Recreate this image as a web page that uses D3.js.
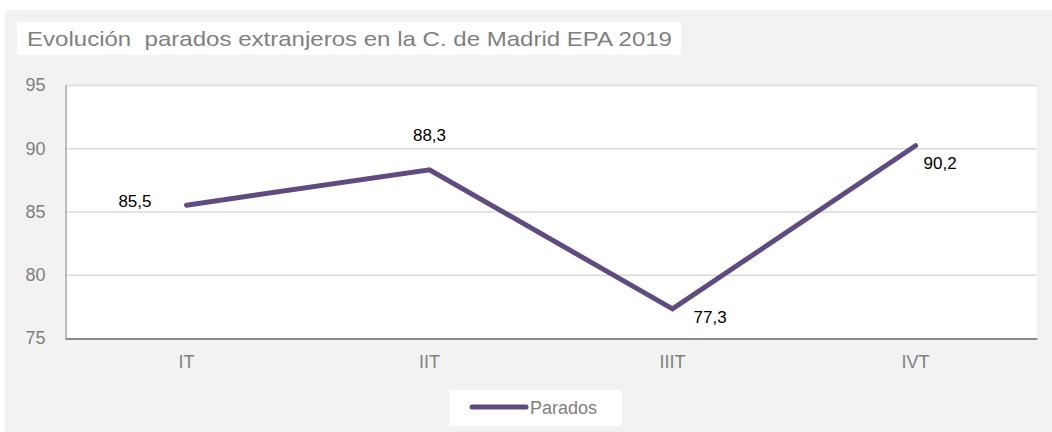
<!DOCTYPE html>
<html>
<head>
<meta charset="utf-8">
<script src="https://cdn.jsdelivr.net/npm/d3@7"></script>
<style>
  body { margin: 0; background: #fff; }
  text { font-family: "Liberation Sans", Arial, sans-serif; }
</style>
</head>
<body>
<script>
var quarters = ["IT", "IIT", "IIIT", "IVT"];
var parados = [85.5, 88.3, 77.3, 90.2];
var yTicks = [75, 80, 85, 90, 95];
var seriesName = "Parados";
var title = "Evolución  parados extranjeros en la C. de Madrid EPA 2019";

var width = 1052, height = 432;
var margin = { top: 85, right: 15, bottom: 94, left: 65 };

var svg = d3.select("body").append("svg")
  .attr("width", width)
  .attr("height", height);

// outer grey panel
svg.append("rect")
  .attr("x", 5).attr("y", 10)
  .attr("width", width - 5).attr("height", height - 10)
  .style("fill", "#f2f2f2");

// title box
svg.append("rect")
  .attr("x", 17).attr("y", 22)
  .attr("width", 664).attr("height", 33)
  .style("fill", "#fff");

svg.append("text")
  .attr("x", 27).attr("y", 46)
  .attr("textLength", 645)
  .attr("lengthAdjust", "spacingAndGlyphs")
  .style("white-space", "pre")
  .style("font-size", "21px")
  .style("fill", "#7f7f7f")
  .text(title);

var x = d3.scaleBand()
  .domain(quarters)
  .range([margin.left, width - margin.right]);

var y = d3.scaleLinear()
  .domain([75, 95])
  .range([height - margin.bottom, margin.top]);

// plot area
svg.append("rect")
  .attr("x", margin.left).attr("y", margin.top)
  .attr("width", width - margin.right - margin.left)
  .attr("height", height - margin.bottom - margin.top)
  .style("fill", "#fff");

// gridlines
svg.append("g")
  .selectAll("line")
  .data(yTicks.slice(1))
  .enter().append("line")
  .attr("x1", margin.left).attr("x2", width - margin.right)
  .attr("y1", function(d) { return y(d) + 0.5; })
  .attr("y2", function(d) { return y(d) + 0.5; })
  .style("stroke", "#d9d9d9")
  .style("stroke-width", "1.5px");

// y axis
var yAxis = d3.axisLeft(y).tickValues(yTicks).tickSize(0).tickPadding(20);
var gy = svg.append("g")
  .attr("transform", "translate(" + (margin.left + 0.5) + ",0)")
  .call(yAxis);
gy.select(".domain").style("stroke", "#a6a6a6").style("stroke-width", "1.5px");
gy.selectAll("text")
  .style("font-size", "18px")
  .style("fill", "#7f7f7f")
  .style("font-family", "Liberation Sans, Arial, sans-serif");

// x axis
var xAxis = d3.axisBottom(x).tickSize(0).tickPadding(17);
var gx = svg.append("g")
  .attr("transform", "translate(0," + (height - margin.bottom + 0.5) + ")")
  .call(xAxis);
gx.select(".domain").style("stroke", "#8c8c8c").style("stroke-width", "2px");
gx.selectAll("text")
  .style("font-size", "18px")
  .style("fill", "#7f7f7f")
  .style("font-family", "Liberation Sans, Arial, sans-serif");

// line
var line = d3.line()
  .x(function(d, i) { return x(quarters[i]) + x.bandwidth() / 2; })
  .y(function(d) { return y(d); });

svg.append("path")
  .datum(parados)
  .attr("d", line)
  .style("fill", "none")
  .style("stroke", "#5f4b7f")
  .style("stroke-width", "5px")
  .style("stroke-linejoin", "miter")
  .style("stroke-linecap", "round");

// data labels: left, above, right-below, right
var labelPos = [
  { dx: -35, dy: 2, anchor: "end" },
  { dx: 0, dy: -29, anchor: "middle" },
  { dx: 21, dy: 14, anchor: "start" },
  { dx: 8, dy: 23, anchor: "start" }
];

svg.append("g")
  .selectAll("text")
  .data(parados)
  .enter().append("text")
  .attr("x", function(d, i) { return x(quarters[i]) + x.bandwidth() / 2 + labelPos[i].dx; })
  .attr("y", function(d, i) { return y(d) + labelPos[i].dy; })
  .style("text-anchor", function(d, i) { return labelPos[i].anchor; })
  .style("font-size", "17px")
  .style("fill", "#000")
  .text(function(d) { return d3.format(".1f")(d).replace(".", ","); });

// legend
var legend = svg.append("g").attr("transform", "translate(449,390)");
legend.append("rect")
  .attr("width", 173).attr("height", 36)
  .style("fill", "#fff");
legend.append("line")
  .attr("x1", 23).attr("x2", 77)
  .attr("y1", 17).attr("y2", 17)
  .style("stroke", "#5f4b7f")
  .style("stroke-width", "5px")
  .style("stroke-linecap", "round");
legend.append("text")
  .attr("x", 81).attr("y", 24)
  .style("font-size", "18px")
  .style("fill", "#7f7f7f")
  .text(seriesName);
</script>
</body>
</html>
